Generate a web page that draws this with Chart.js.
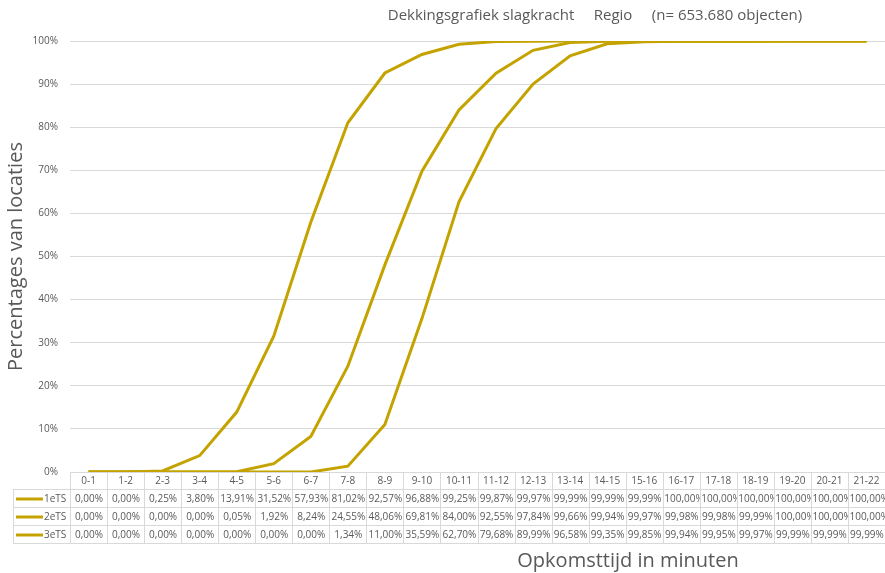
<!DOCTYPE html>
<html>
<head>
<meta charset="utf-8">
<script src="https://cdn.jsdelivr.net/npm/chart.js@4/dist/chart.umd.min.js"></script>
<style>
  html, body { margin: 0; padding: 0; background: #fff; }
  #wrap { width: 885px; height: 573px; }
</style>
</head>
<body>
<div id="wrap"><canvas id="lijncanvas"></canvas></div>
<script>
// categories (minutes)
const categories = ["0-1","1-2","2-3","3-4","4-5","5-6","6-7","7-8","8-9","9-10","10-11",
  "11-12","12-13","13-14","14-15","15-16","16-17","17-18","18-19","19-20","20-21","21-22"];
const seriesNames = ["1eTS", "2eTS", "3eTS"];
const ts1 = [0,0,0.25,3.80,13.91,31.52,57.93,81.02,92.57,96.88,99.25,99.87,99.97,99.99,99.99,99.99,100,100,100,100,100,100];
const ts2 = [0,0,0,0,0.05,1.92,8.24,24.55,48.06,69.81,84.00,92.55,97.84,99.66,99.94,99.97,99.98,99.98,99.99,100,100,100];
const ts3 = [0,0,0,0,0,0,0,1.34,11.00,35.59,62.70,79.68,89.99,96.58,99.35,99.85,99.94,99.95,99.97,99.99,99.99,99.99];
const yTicks = [0,10,20,30,40,50,60,70,80,90,100];

const chartTitle = "Dekkingsgrafiek slagkracht     Regio     (n= 653.680 objecten)";
const xTitle = "Opkomsttijd in minuten";
const yTitle = "Percentages van locaties";

const gold = "#c4a300";
const grey = "#595959";
const fontName = "'Open Sans', 'Liberation Sans', sans-serif";

function fmt(v) {
  return v.toFixed(2).replace(".", ",") + "%";
}

// draws title, x title and the data table under the plot
const tablePlugin = {
  id: "datatabel",
  afterDraw(chart) {
    const ctx = chart.ctx;
    const x = chart.scales.x;
    const area = chart.chartArea;
    const top = area.bottom;
    const headH = 17, rowH = 18;
    const labelLeft = 13;
    const colW = (area.right - area.left) / categories.length;
    const rows = [ts1, ts2, ts3];
    const bottom = top + headH + rowH * rows.length;

    ctx.save();
    // title
    ctx.fillStyle = grey;
    ctx.font = "15px " + fontName;
    ctx.textAlign = "center";
    ctx.textBaseline = "middle";
    ctx.fillText(chartTitle, 595, 16);
    // x title
    ctx.font = "20px " + fontName;
    ctx.fillText(xTitle, 628, 561);

    // grid lines of table
    ctx.strokeStyle = "#d9d9d9";
    ctx.lineWidth = 1;
    ctx.beginPath();
    for (let i = 0; i <= categories.length; i++) {
      const cx = Math.round(area.left + i * colW) + 0.5;
      ctx.moveTo(cx, top);
      ctx.lineTo(cx, bottom);
    }
    ctx.moveTo(labelLeft + 0.5, top + headH);
    ctx.lineTo(labelLeft + 0.5, bottom);
    for (let r = 0; r <= rows.length; r++) {
      const y = Math.round(top + headH + r * rowH) + 0.5;
      ctx.moveTo(labelLeft, y);
      ctx.lineTo(area.right, y);
    }
    ctx.stroke();

    // header
    ctx.font = "10px " + fontName;
    ctx.fillStyle = grey;
    categories.forEach((c, i) => {
      ctx.fillText(c, x.getPixelForValue(i), top + headH / 2 + 1);
    });

    // rows
    rows.forEach((data, r) => {
      const cy = top + headH + r * rowH + rowH / 2 + 1;
      ctx.strokeStyle = gold;
      ctx.lineWidth = 3;
      ctx.beginPath();
      ctx.moveTo(16, cy);
      ctx.lineTo(43, cy);
      ctx.stroke();
      ctx.fillStyle = grey;
      ctx.textAlign = "left";
      ctx.fillText(seriesNames[r], 44, cy);
      data.forEach((v, i) => {
        const left = area.left + i * colW;
        const s = fmt(v);
        const w = ctx.measureText(s).width;
        ctx.save();
        ctx.beginPath();
        ctx.rect(left + 1, cy - rowH / 2, colW - 1, rowH);
        ctx.clip();
        if (w <= colW - 2) {
          ctx.textAlign = "center";
          ctx.fillText(s, left + colW / 2 + 0.5, cy);
        } else {
          ctx.textAlign = "left";
          ctx.fillText(s, left + 1.5, cy);
        }
        ctx.restore();
      });
    });
    ctx.restore();
  }
};

function lijn(label, data) {
  return {
    label: label,
    data: data,
    borderColor: gold,
    backgroundColor: gold,
    borderWidth: 3,
    pointRadius: 0,
    tension: 0,
    fill: false
  };
}

window.onload = function () {
  const ctx = document.getElementById("lijncanvas").getContext("2d");
  window.myLine = new Chart(ctx, {
    type: "line",
    data: {
      labels: categories,
      datasets: [lijn(seriesNames[0], ts1), lijn(seriesNames[1], ts2), lijn(seriesNames[2], ts3)]
    },
    options: {
      responsive: true,
      maintainAspectRatio: false,
      animation: false,
      layout: { padding: { top: 41, bottom: 101, left: 0, right: 0 } },
      plugins: {
        legend: { display: false },
        title: { display: false },
        tooltip: { enabled: false }
      },
      scales: {
        x: {
          type: "category",
          display: false,
          offset: true
        },
        y: {
          min: 0,
          max: 100,
          afterFit: function (scale) { scale.width = 70; },
          afterBuildTicks: function (scale) {
            scale.ticks = yTicks.map(v => ({ value: v }));
          },
          border: { display: false },
          grid: { color: "#d9d9d9", drawTicks: false },
          ticks: {
            padding: 12,
            color: grey,
            font: { family: fontName, size: 10 },
            callback: v => v + "%"
          },
          title: {
            display: true,
            text: yTitle,
            color: grey,
            font: { family: fontName, size: 20 }
          }
        }
      }
    },
    plugins: [tablePlugin]
  });
};
</script>
</body>
</html>
